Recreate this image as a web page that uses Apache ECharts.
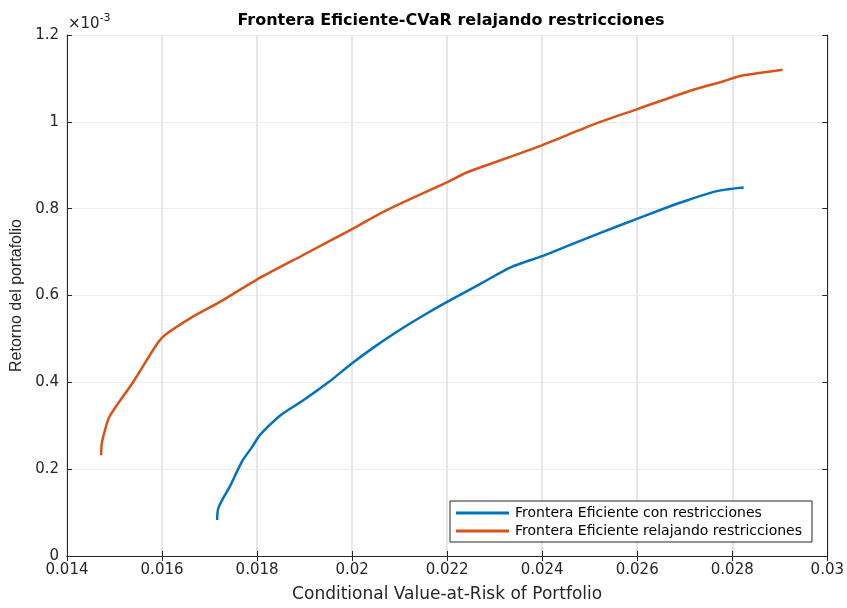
<!DOCTYPE html>
<html>
<head>
<meta charset="utf-8">
<script src="https://cdn.jsdelivr.net/npm/echarts@6/dist/echarts.min.js"></script>
<style>html,body{margin:0;padding:0;background:#fff}#c{width:847px;height:608px}</style>
</head>
<body>
<div id="c"></div>
<script>
// Data (y values in units of 1e-3)
var seriesNames = ['Frontera Eficiente con restricciones', 'Frontera Eficiente relajando restricciones'];
var conX = [0.01716, 0.01719, 0.01745, 0.01769, 0.01790, 0.01804, 0.01822, 0.01850, 0.01895, 0.01950, 0.02000, 0.02050, 0.02105, 0.02150, 0.02198, 0.02270, 0.02336, 0.02403, 0.02480, 0.02560, 0.02658, 0.02707, 0.02770, 0.02824];
var conY = [0.083, 0.112, 0.165, 0.219, 0.252, 0.276, 0.297, 0.325, 0.357, 0.400, 0.444, 0.484, 0.524, 0.554, 0.584, 0.627, 0.666, 0.692, 0.726, 0.760, 0.801, 0.820, 0.841, 0.849];
var relX = [0.01472, 0.01473, 0.01480, 0.01490, 0.01540, 0.01588, 0.01605, 0.01660, 0.01720, 0.01797, 0.01900, 0.02000, 0.02070, 0.02198, 0.02245, 0.02378, 0.02518, 0.02602, 0.02707, 0.02780, 0.02819, 0.02860, 0.02906];
var relY = [0.232, 0.258, 0.290, 0.322, 0.402, 0.486, 0.508, 0.548, 0.584, 0.635, 0.695, 0.753, 0.795, 0.860, 0.885, 0.937, 0.998, 1.030, 1.070, 1.093, 1.106, 1.113, 1.120];
var xTicks = [0.014, 0.016, 0.018, 0.02, 0.022, 0.024, 0.026, 0.028, 0.03];
var yTicks = [0, 0.2, 0.4, 0.6, 0.8, 1, 1.2];

function pairs(xs, ys) { return xs.map(function (x, i) { return [x, ys[i]]; }); }

var wide = '"DejaVu Sans", Verdana, sans-serif';
var font = '"Liberation Sans", Arial, Helvetica, sans-serif';
var txt = '#262626';
var chart = echarts.init(document.getElementById('c'), null, { renderer: 'canvas' });
var hiddenAxisBase = {
  axisLine: { show: true, lineStyle: { color: txt, width: 1 } },
  axisTick: { show: true, inside: true, length: 5, lineStyle: { color: txt } },
  axisLabel: { show: false },
  splitLine: { show: false }
};
chart.setOption({
  animation: false,
  backgroundColor: '#fff',
  title: {
    text: 'Frontera Eficiente-CVaR relajando restricciones',
    left: 446, top: 8, textAlign: 'center',
    textStyle: { fontFamily: wide, fontSize: 16, fontWeight: 'bold', color: '#000' }
  },
  grid: { left: 67, right: 17, top: 35, bottom: 49, containLabel: false },
  legend: {
    orient: 'vertical', left: 450, top: 501,
    data: seriesNames,
    itemWidth: 53, itemHeight: 3, itemGap: 4,
    padding: [5, 10, 4, 6],
    borderColor: txt, borderWidth: 1, backgroundColor: '#fff',
    icon: 'rect',
    textStyle: { fontFamily: wide, fontSize: 14, color: '#000', padding: [0, 0, 0, 1] }
  },
  xAxis: [{
    type: 'value', min: 0.014, max: 0.03, interval: 0.002,
    name: 'Conditional Value-at-Risk of Portfolio', nameLocation: 'middle', nameGap: 30,
    nameTextStyle: { fontFamily: wide, fontSize: 17, color: txt },
    axisLine: { show: true, lineStyle: { color: txt } },
    axisTick: { show: true, inside: true, length: 5, lineStyle: { color: txt } },
    axisLabel: { fontFamily: wide, fontSize: 15, color: txt, margin: 7,
      formatter: function (v) { return String(+v.toFixed(3)); } },
    splitLine: { show: true, lineStyle: { color: '#e6e6e6', width: 2 } }
  }, Object.assign({ type: 'value', position: 'top', min: 0.014, max: 0.03, interval: 0.002 }, hiddenAxisBase)],
  yAxis: [{
    type: 'value', min: 0, max: 1.2, interval: 0.2,
    name: 'Retorno del portafolio', nameLocation: 'middle', nameGap: 42,
    nameTextStyle: { fontFamily: font, fontSize: 16, color: txt },
    axisLine: { show: true, lineStyle: { color: txt } },
    axisTick: { show: true, inside: true, length: 5, lineStyle: { color: txt } },
    axisLabel: { fontFamily: wide, fontSize: 15, color: txt, margin: 8,
      formatter: function (v) { return String(+v.toFixed(1)); } },
    splitLine: { show: true, lineStyle: { color: '#ececec', width: 1 } }
  }, Object.assign({ type: 'value', position: 'right', min: 0, max: 1.2, interval: 0.2 }, hiddenAxisBase)],
  graphic: [{
    type: 'text', left: 68, top: 13,
    style: {
      text: '{a|×10}{b|-3}',
      rich: {
        a: { fontFamily: wide, fontSize: 15, fill: txt, verticalAlign: 'bottom' },
        b: { fontFamily: wide, fontSize: 11, fill: txt, verticalAlign: 'top', padding: [0, 0, 8, 0] }
      }
    }
  }],
  series: [{
    name: seriesNames[0], type: 'line', data: pairs(conX, conY),
    showSymbol: false, smooth: 0.3, color: '#0072BD',
    lineStyle: { width: 2.5, color: '#0072BD' }
  }, {
    name: seriesNames[1], type: 'line', data: pairs(relX, relY),
    showSymbol: false, smooth: 0.3, color: '#D95319',
    lineStyle: { width: 2.5, color: '#D95319' }
  }]
});
</script>
</body>
</html>
